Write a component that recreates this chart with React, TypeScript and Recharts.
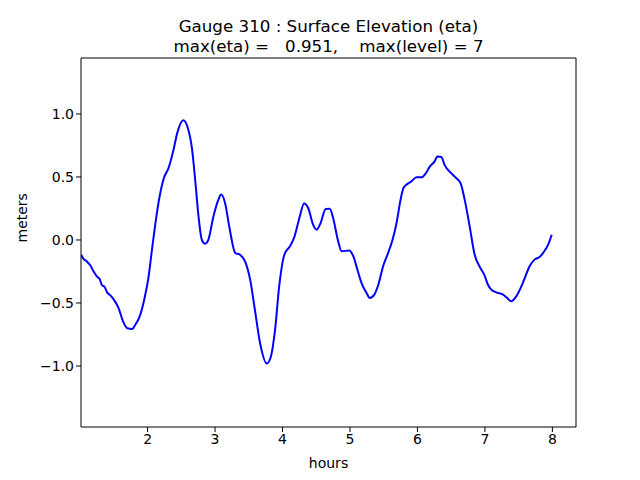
import React from 'react';
import { LineChart, Line, XAxis, YAxis, Label } from 'recharts';

// time in hours, surface elevation in meters
const hours = [
  1.015, 1.05, 1.1, 1.15, 1.2, 1.25, 1.29, 1.325, 1.36, 1.4, 1.45, 1.5, 1.57, 1.636, 1.7, 1.77, 1.82, 1.88, 1.95,
  2.015, 2.065, 2.11, 2.16, 2.24, 2.31, 2.385, 2.44, 2.53, 2.59, 2.66, 2.71, 2.755, 2.805, 2.854, 2.9, 2.976,
  3.05, 3.09, 3.15, 3.21, 3.3, 3.37, 3.445, 3.52, 3.59, 3.667, 3.766, 3.83, 3.89, 3.95,
  4.027, 4.11, 4.17, 4.25, 4.32, 4.38, 4.455, 4.505, 4.565, 4.64, 4.7, 4.75, 4.825, 4.876, 4.99,
  5.05, 5.11, 5.17, 5.245, 5.294, 5.36, 5.42, 5.49, 5.565, 5.63, 5.69, 5.75, 5.79, 5.84, 5.91, 5.985,
  6.06, 6.12, 6.18, 6.255, 6.295, 6.355, 6.4, 6.5, 6.577, 6.64, 6.7, 6.774, 6.848, 6.92, 6.996,
  7.045, 7.095, 7.17, 7.27, 7.33, 7.39, 7.465, 7.54, 7.6, 7.66, 7.735, 7.81, 7.88, 7.947, 7.99,
];
const eta = [
  -0.117, -0.15, -0.17, -0.2, -0.25, -0.29, -0.31, -0.36, -0.37, -0.416, -0.44, -0.474, -0.54, -0.646, -0.7, -0.706, -0.67, -0.61, -0.474,
  -0.29, -0.077, 0.108, 0.29, 0.49, 0.57, 0.717, 0.85, 0.951, 0.9, 0.717, 0.45, 0.187, 0.0, -0.03, 0.0, 0.187,
  0.32, 0.36, 0.29, 0.108, -0.103, -0.117, -0.17, -0.315, -0.553, -0.818, -0.98, -0.92, -0.71, -0.37,
  -0.117, -0.05, 0.016, 0.175, 0.29, 0.254, 0.12, 0.082, 0.135, 0.246, 0.248, 0.175, -0.011, -0.09, -0.083,
  -0.13, -0.236, -0.34, -0.42, -0.46, -0.434, -0.355, -0.21, -0.103, 0.0, 0.135, 0.32, 0.41, 0.44, 0.465, 0.497,
  0.497, 0.526, 0.58, 0.624, 0.663, 0.659, 0.598, 0.53, 0.49, 0.45, 0.32, 0.108, -0.117, -0.21, -0.283,
  -0.355, -0.394, -0.416, -0.434, -0.46, -0.487, -0.447, -0.368, -0.289, -0.21, -0.156, -0.135, -0.09, -0.024, 0.042,
];

const xTicks = [2, 3, 4, 5, 6, 7, 8];
const yTicks = [-1.0, -0.5, 0.0, 0.5, 1.0];
const xDomain = [1.013, 8.35];
const yDomain = [-1.484, 1.444];

const data = hours.map((h, i) => ({ h, eta: eta[i] }));

const font = 'DejaVu Sans, sans-serif';
const fmtY = (v: number) => (v < 0 ? '\u2212' : '') + Math.abs(v).toFixed(1);

export default function App() {
  return (
    <div style={{ position: 'absolute', left: 0, top: 0, width: 640, height: 480, background: '#fff', fontFamily: font }}>
      <div
        style={{
          position: 'absolute', left: 81, width: 495, top: 16, textAlign: 'center',
          fontSize: 16.7, lineHeight: '20px', whiteSpace: 'pre', color: '#000',
        }}
      >
        {'Gauge 310 : Surface Elevation (eta)\nmax(eta) =   0.951,    max(level) = 7'}
      </div>
      <LineChart width={640} height={480} data={data} margin={{ top: 57, right: 63, left: 0, bottom: 0 }}>
        <XAxis
          dataKey="h" type="number" domain={xDomain} ticks={xTicks} allowDataOverflow
          height={53} tickSize={5} stroke="#000" tick={{ fill: '#000', fontSize: 14, fontFamily: font }}
        >
          <Label value="hours" position="insideBottom" offset={12} fill="#000" fontSize={14} fontFamily={font} />
        </XAxis>
        <XAxis xAxisId="top" orientation="top" dataKey="h" type="number" domain={xDomain} height={1} tick={false} tickLine={false} stroke="#000" allowDataOverflow />
        <YAxis
          type="number" domain={yDomain} ticks={yTicks} allowDataOverflow width={81} tickSize={5}
          stroke="#000" tickFormatter={fmtY} tick={{ fill: '#000', fontSize: 14, fontFamily: font }}
        >
          <Label value="meters" angle={-90} position="insideLeft" offset={22} fill="#000" fontSize={14} fontFamily={font} />
        </YAxis>
        <YAxis yAxisId="right" orientation="right" type="number" domain={yDomain} width={1} tick={false} tickLine={false} stroke="#000" allowDataOverflow />
        <Line type="monotone" dataKey="eta" stroke="#0000ff" strokeWidth={2} dot={false} isAnimationActive={false} />
      </LineChart>
    </div>
  );
}
